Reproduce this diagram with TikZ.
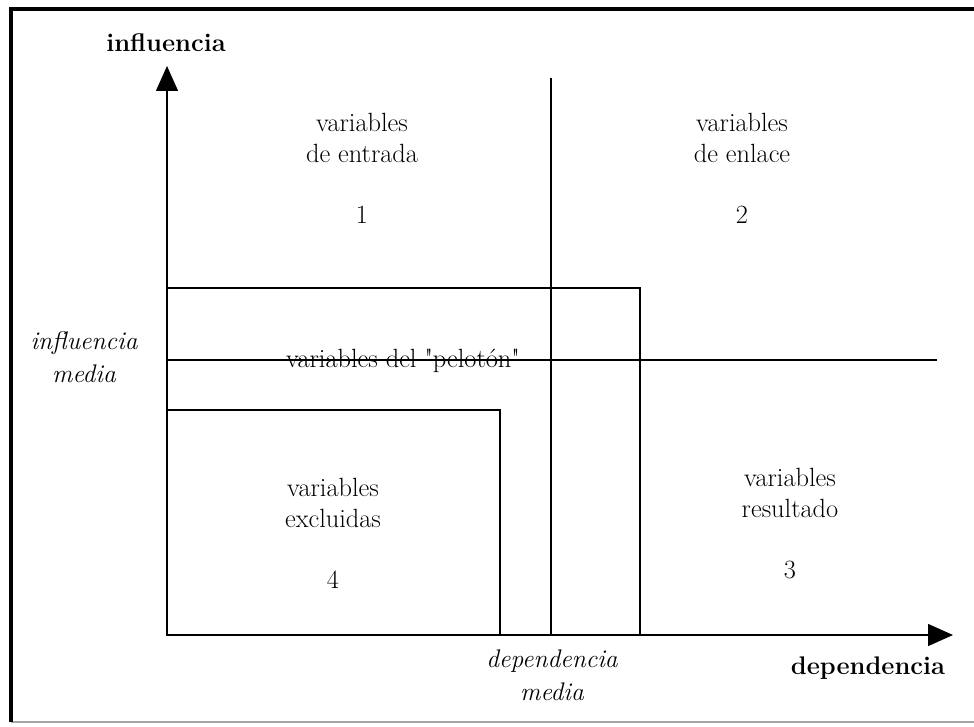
\documentclass[tikz,border=0pt]{standalone}
\usetikzlibrary{arrows.meta}
\begin{document}
\begin{tikzpicture}[x=0.02cm,y=-0.02cm,
  axis/.style={-{Triangle[length=5mm,width=4.4mm]},line width=0.8pt},
  zone/.style={draw,line width=0.8pt},
  lbl/.style={align=center,inner sep=0pt,font=\fontsize{15}{18}\selectfont},
  axlbl/.style={inner sep=0pt,font=\fontsize{14.5}{18}\selectfont\bfseries},
  med/.style={align=center,inner sep=0pt,font=\fontsize{14.5}{19}\selectfont\itshape}]
\useasboundingbox (0,0) rectangle (974,727);
% marco
\draw[gray!70,line width=0.6pt] (11,722) -- (974,722);
\draw[line width=2.8pt] (11,722) -- (11,9) -- (974,9);
% ejes
\coordinate (O) at (167,635);
\coordinate (ytip) at (167,66);
\coordinate (xtip) at (953,635);
\draw[axis] (O) -- (ytip);
\draw[axis] (O) -- (xtip);
\node[axlbl] (infl) at (166,43) {influencia};
\node[axlbl] (dep) at (868,668) {dependencia};
% medias
\coordinate (vtop) at (551,78);
\coordinate (vbot) at (551,635);
\coordinate (hleft) at (167,360);
\coordinate (hright) at (937,360);
\draw[zone] (vtop) -- (vbot);
\draw[zone] (hleft) -- (hright);
\node[med] (inflmed) at (84,357) {influencia\\media};
\node[med] (depmed) at (552,675) {dependencia\\media};
% zonas
\coordinate (peltop) at (640,288);
\coordinate (exctop) at (500,410);
\draw[zone] (O) rectangle (peltop);
\draw[zone] (O) rectangle (exctop);
\node[lbl] (pel) at (403,361) {variables del \textquotedbl pelotón\textquotedbl};
% cuadrantes
\node[lbl] (entrada) at (362,138) {variables\\de entrada};
\node[lbl] (n1) at (362,215) {1};
\node[lbl] (enlace) at (742,138) {variables\\de enlace};
\node[lbl] (n2) at (742,215) {2};
\node[lbl] (excl) at (333,503) {variables\\excluidas};
\node[lbl] (n4) at (333,580) {4};
\node[lbl] (result) at (790,493) {variables\\resultado};
\node[lbl] (n3) at (790,570) {3};
\end{tikzpicture}
\end{document}
